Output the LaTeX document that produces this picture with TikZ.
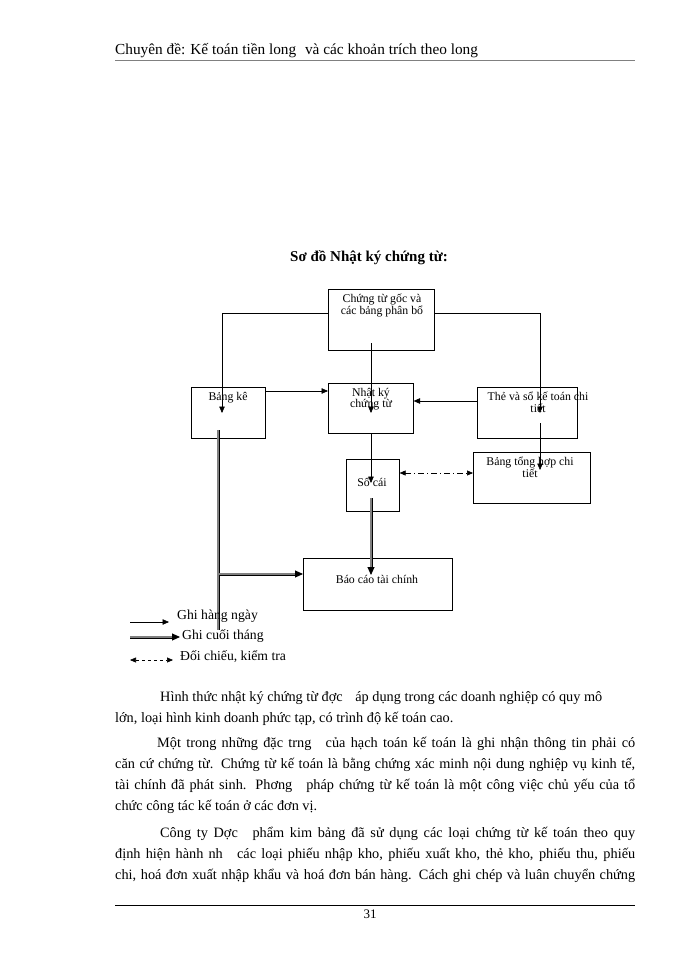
\documentclass[tikz,border=0pt]{standalone}
\usepackage{fontspec}
\setmainfont{Liberation Serif}
\usetikzlibrary{arrows.meta}
\begin{document}
\begin{tikzpicture}[x=1pt,y=-1pt,
  box/.style={draw, line width=0.6pt, inner sep=0pt, anchor=north west},
  lbl/.style={inner sep=0pt, align=center, font=\fontsize{11.8}{11.5}\selectfont},
  arr/.style={-{Triangle[length=6.5pt,width=5.5pt]}, line width=0.6pt},
  dbl/.style={double=gray, double distance=1.2pt, line width=0.9pt},
  dblarr/.style={dbl, -{Triangle[length=8pt,width=7pt]}},
  dd/.style={{Triangle[length=6pt,width=5pt]}-{Triangle[length=6pt,width=5pt]}, line width=0.6pt, dash pattern=on 6pt off 3pt on 1pt off 3pt},
  para/.style={inner sep=0pt, anchor=base west, font=\fontsize{14.3}{16}\selectfont},
  leg/.style={inner sep=0pt, anchor=base west, font=\fontsize{13.7}{15}\selectfont}]
\useasboundingbox[fill=white] (0,0) rectangle (700,960);

% header
\node[para, font=\fontsize{15.3}{17}\selectfont] (hdr) at (115,55) {Chuyên đề: Kế toán tiền long\hspace{5pt} và các khoản trích theo long};
\draw[gray, line width=0.6pt] (115,60) -- (635,60);

% title
\node[inner sep=0pt, font=\bfseries\fontsize{15}{17}\selectfont] (title) at (369,258) {Sơ đồ Nhật ký chứng từ:};

% boxes
\node[box, minimum width=106pt, minimum height=61pt] (goc) at (328,289) {};
\node[box, minimum width=74pt, minimum height=51pt] (bk) at (191,387) {};
\node[box, minimum width=85pt, minimum height=50pt] (nk) at (328,383) {};
\node[box, minimum width=100pt, minimum height=51pt] (the) at (477,387) {};
\node[box, minimum width=53pt, minimum height=52pt] (sc) at (346,459) {};
\node[box, minimum width=117pt, minimum height=51pt] (th) at (473,452) {};
\node[box, minimum width=149pt, minimum height=52pt] (bc) at (303,558) {};

% labels
\node[lbl] (tgoc) at (382,305.5) {Chứng từ gốc và\\các bảng phân bổ};
\node[lbl] (tbk) at (228,398) {Bảng kê};
\node[lbl] (tnk) at (371,399) {Nhật ký\\chứng từ};
\node[lbl] (tthe) at (538,402.5) {Thẻ và sổ kế toán chi\\tiết};
\node[lbl] (tsc) at (372,482) {Sổ cái};
\node[lbl] (tth) at (530,467.5) {Bảng tổng hợp chi\\tiết};
\node[lbl] (tbc) at (377,579) {Báo cáo tài chính};

% connector points
\coordinate (g1) at (328,313);
\coordinate (bk1) at (222,413);
\coordinate (g2) at (434,313);
\coordinate (the1) at (540,413);
\coordinate (g3) at (371,343);
\coordinate (nk1) at (371,413);
\coordinate (nk2) at (371,433);
\coordinate (sc1) at (371,483);
\coordinate (the2) at (540,423);
\coordinate (th1) at (540,470);
\coordinate (sc2) at (371,498);
\coordinate (bc1) at (371,575);
\coordinate (v1) at (218,430);
\coordinate (v2) at (218,630);
\coordinate (v3) at (219,574);

\draw[arr] (g1) -| (bk1);
\draw[arr] (g2) -| (the1);
\draw[arr] (g3) -- (nk1);
\draw[arr] (bk.east |- 0,391) -- (nk.west |- 0,391);
\draw[arr] (the.west |- 0,401) -- (nk.east |- 0,401);
\draw[arr] (nk2) -- (sc1);
\draw[arr] (the2) -- (th1);
\draw[dd] (sc.east |- 0,473) -- (th.west |- 0,473);
\draw[dblarr] (sc2) -- (bc1);
\draw[dbl] (v1) -- (v2);
\draw[dblarr] (v3) -- (bc.west |- v3);

% legend
\coordinate (l1a) at (130,622); \coordinate (l1b) at (169,622);
\coordinate (l2a) at (130,637); \coordinate (l2b) at (180,637);
\coordinate (l3a) at (130,660); \coordinate (l3b) at (173,660);
\draw[arr] (l1a) -- (l1b);
\draw[dblarr] (l2a) -- (l2b);
\draw[{Triangle[length=6pt,width=5pt]}-{Triangle[length=6pt,width=5pt]}, line width=0.6pt, dash pattern=on 3pt off 3pt] (l3a) -- (l3b);
\node[leg] (lg1) at (177,619) {Ghi hàng ngày};
\node[leg] (lg2) at (182,639) {Ghi cuối tháng};
\node[leg] (lg3) at (180,660) {Đối chiếu, kiểm tra};

% paragraphs
\node[para] (p1) at (160,701) {Hình thức nhật ký chứng từ đợc\hspace{9pt} áp dụng trong các doanh nghiệp có quy mô};
\node[para] (p2) at (115,722) {lớn, loại hình kinh doanh phức tạp, có trình độ kế toán cao.};
\node[para] (p3) at (157,747) {\makebox[478pt][s]{Một trong những đặc trng\hspace{9pt} của hạch toán kế toán là ghi nhận thông tin phải có}};
\node[para] (p4) at (115,768) {\makebox[520pt][s]{căn cứ chứng từ. Chứng từ kế toán là bằng chứng xác minh nội dung nghiệp vụ kinh tế,}};
\node[para] (p5) at (115,789) {\makebox[520pt][s]{tài chính đã phát sinh. Phơng\hspace{9pt} pháp chứng từ kế toán là một công việc chủ yếu của tổ}};
\node[para] (p6) at (115,810) {chức công tác kế toán ở các đơn vị.};
\node[para] (p7) at (160,837) {\makebox[475pt][s]{Công ty Dợc\hspace{9pt} phẩm kim bảng đã sử dụng các loại chứng từ kế toán theo quy}};
\node[para] (p8) at (115,858) {\makebox[520pt][s]{định hiện hành nh\hspace{9pt} các loại phiếu nhập kho, phiếu xuất kho, thẻ kho, phiếu thu, phiếu}};
\node[para] (p9) at (115,879) {\makebox[520pt][s]{chi, hoá đơn xuất nhập khẩu và hoá đơn bán hàng. Cách ghi chép và luân chuyển chứng}};

% footer
\draw[line width=0.7pt] (115,905) -- (635,905);
\node[inner sep=0pt, font=\fontsize{13}{15}\selectfont] (pg) at (370,914) {31};
\end{tikzpicture}
\end{document}
